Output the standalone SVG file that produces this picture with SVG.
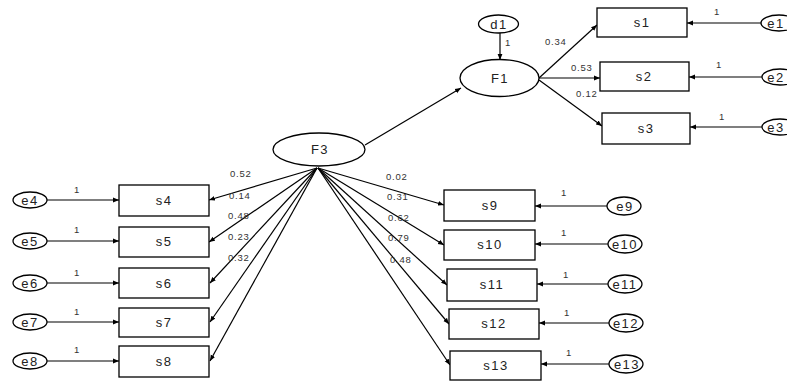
<svg xmlns="http://www.w3.org/2000/svg" width="787" height="381" viewBox="0 0 787 381">
<style>
.n{fill:#fff;stroke:#000;stroke-width:1.3}
.t{font-family:"Liberation Sans",Arial,sans-serif;font-size:13px;letter-spacing:1.5px;text-anchor:middle;fill:#222}
.c{font-family:"Liberation Sans",Arial,sans-serif;font-size:9.5px;letter-spacing:0.8px;fill:#333}
.a{stroke:#000;stroke-width:1.2;fill:none;marker-end:url(#ah)}
</style>
<defs>
<marker id="ah" viewBox="0 0 10 10" refX="10" refY="5" markerWidth="6" markerHeight="6" markerUnits="userSpaceOnUse" orient="auto">
<path d="M0,1 L10,5 L0,9 z" fill="#000"/>
</marker>
</defs>
<rect width="787" height="381" fill="#fff"/>
<g id="connectors">
<line class="a" x1="500" y1="33" x2="500" y2="60"/>
<line class="a" x1="365" y1="145" x2="461" y2="88"/>
<line class="a" x1="539" y1="78" x2="597" y2="25"/>
<line class="a" x1="539" y1="78" x2="600" y2="78"/>
<line class="a" x1="539" y1="80" x2="602" y2="126"/>
<line class="a" x1="761" y1="23" x2="687" y2="23"/>
<line class="a" x1="762" y1="77" x2="689" y2="77"/>
<line class="a" x1="762" y1="127" x2="690" y2="127"/>
<line class="a" x1="317" y1="168" x2="209" y2="200"/>
<line class="a" x1="317" y1="168" x2="209" y2="242"/>
<line class="a" x1="317" y1="168" x2="210" y2="283"/>
<line class="a" x1="317" y1="168" x2="210" y2="322"/>
<line class="a" x1="317" y1="168" x2="210" y2="361"/>
<line class="a" x1="318" y1="168" x2="444" y2="205"/>
<line class="a" x1="318" y1="168" x2="444" y2="245"/>
<line class="a" x1="318" y1="168" x2="447" y2="285"/>
<line class="a" x1="318" y1="168" x2="449" y2="324"/>
<line class="a" x1="318" y1="168" x2="450" y2="365"/>
<line class="a" x1="47" y1="200" x2="119" y2="200"/>
<line class="a" x1="47" y1="241" x2="119" y2="241"/>
<line class="a" x1="47" y1="283" x2="119" y2="283"/>
<line class="a" x1="47" y1="322" x2="119" y2="322"/>
<line class="a" x1="47" y1="361" x2="119" y2="361"/>
<line class="a" x1="607" y1="206" x2="535" y2="206"/>
<line class="a" x1="608" y1="244" x2="535" y2="244"/>
<line class="a" x1="608" y1="284" x2="537" y2="284"/>
<line class="a" x1="609" y1="323" x2="539" y2="323"/>
<line class="a" x1="609" y1="364" x2="541" y2="364"/>
</g>
<g id="labels">
<text class="c" x="505" y="46">1</text>
<text class="c" x="545" y="45">0.34</text>
<text class="c" x="571" y="71">0.53</text>
<text class="c" x="576" y="97">0.12</text>
<text class="c" x="714" y="15">1</text>
<text class="c" x="716" y="68">1</text>
<text class="c" x="719" y="120">1</text>
<text class="c" x="230" y="177">0.52</text>
<text class="c" x="229" y="199">0.14</text>
<text class="c" x="228" y="219">0.48</text>
<text class="c" x="228" y="240">0.23</text>
<text class="c" x="228" y="261">0.32</text>
<text class="c" x="386" y="180">0.02</text>
<text class="c" x="387" y="200">0.31</text>
<text class="c" x="388" y="221">0.62</text>
<text class="c" x="388" y="241">0.79</text>
<text class="c" x="390" y="263">0.48</text>
<text class="c" x="74" y="193">1</text>
<text class="c" x="74" y="233">1</text>
<text class="c" x="74" y="276">1</text>
<text class="c" x="74" y="315">1</text>
<text class="c" x="74" y="353">1</text>
<text class="c" x="561" y="196">1</text>
<text class="c" x="561" y="236">1</text>
<text class="c" x="563" y="278">1</text>
<text class="c" x="564" y="316">1</text>
<text class="c" x="566" y="356">1</text>
</g>
<g id="F1"><ellipse class="n" cx="499.5" cy="78" rx="39.5" ry="18.5"/><text class="t" x="500" y="83">F1</text></g>
<g id="F3"><ellipse class="n" cx="319" cy="149.5" rx="46" ry="16.5"/><text class="t" x="320" y="154">F3</text></g>
<g id="d1"><ellipse class="n" cx="498.5" cy="24" rx="20" ry="9"/><text class="t" x="499" y="29">d1</text></g>
<g id="s1"><rect class="n" x="597" y="8" width="90" height="29"/><text class="t" x="642" y="27">s1</text></g>
<g id="s2"><rect class="n" x="600" y="62" width="89" height="29"/><text class="t" x="644" y="81">s2</text></g>
<g id="s3"><rect class="n" x="602" y="113" width="88" height="31"/><text class="t" x="646" y="133">s3</text></g>
<g id="e1"><ellipse class="n" cx="779" cy="23" rx="18" ry="8"/><text class="t" x="776" y="28">e1</text></g>
<g id="e2"><ellipse class="n" cx="780" cy="77" rx="18" ry="8"/><text class="t" x="776" y="82">e2</text></g>
<g id="e3"><ellipse class="n" cx="780" cy="127" rx="18" ry="8"/><text class="t" x="776" y="132">e3</text></g>
<g id="s4"><rect class="n" x="119" y="185" width="90" height="31"/><text class="t" x="164" y="205">s4</text></g>
<g id="s5"><rect class="n" x="119" y="227" width="90" height="30"/><text class="t" x="164" y="246">s5</text></g>
<g id="s6"><rect class="n" x="119" y="268" width="90" height="30"/><text class="t" x="164" y="288">s6</text></g>
<g id="s7"><rect class="n" x="119" y="308" width="90" height="29"/><text class="t" x="164" y="327">s7</text></g>
<g id="s8"><rect class="n" x="119" y="346" width="90" height="31"/><text class="t" x="164" y="366">s8</text></g>
<g id="e4"><ellipse class="n" cx="30" cy="200" rx="17" ry="8"/><text class="t" x="30" y="205">e4</text></g>
<g id="e5"><ellipse class="n" cx="30" cy="241" rx="17" ry="8"/><text class="t" x="30" y="246">e5</text></g>
<g id="e6"><ellipse class="n" cx="30" cy="283" rx="17" ry="8"/><text class="t" x="30" y="288">e6</text></g>
<g id="e7"><ellipse class="n" cx="30" cy="322" rx="17" ry="8"/><text class="t" x="30" y="327">e7</text></g>
<g id="e8"><ellipse class="n" cx="30" cy="361" rx="17" ry="8"/><text class="t" x="30" y="366">e8</text></g>
<g id="s9"><rect class="n" x="444" y="190" width="91" height="31"/><text class="t" x="490" y="210">s9</text></g>
<g id="s10"><rect class="n" x="444" y="230" width="91" height="30"/><text class="t" x="490" y="249">s10</text></g>
<g id="s11"><rect class="n" x="447" y="269" width="90" height="32"/><text class="t" x="492" y="289">s11</text></g>
<g id="s12"><rect class="n" x="449" y="309" width="90" height="30"/><text class="t" x="494" y="328">s12</text></g>
<g id="s13"><rect class="n" x="450" y="351" width="91" height="29"/><text class="t" x="496" y="370">s13</text></g>
<g id="e9"><ellipse class="n" cx="624" cy="206" rx="17" ry="9"/><text class="t" x="625" y="211">e9</text></g>
<g id="e10"><ellipse class="n" cx="625" cy="244" rx="17" ry="9"/><text class="t" x="625" y="249">e10</text></g>
<g id="e11"><ellipse class="n" cx="625" cy="284" rx="17" ry="9"/><text class="t" x="625" y="289">e11</text></g>
<g id="e12"><ellipse class="n" cx="626" cy="323" rx="17" ry="9"/><text class="t" x="626" y="328">e12</text></g>
<g id="e13"><ellipse class="n" cx="626" cy="364" rx="17" ry="9"/><text class="t" x="627" y="369">e13</text></g>
</svg>
